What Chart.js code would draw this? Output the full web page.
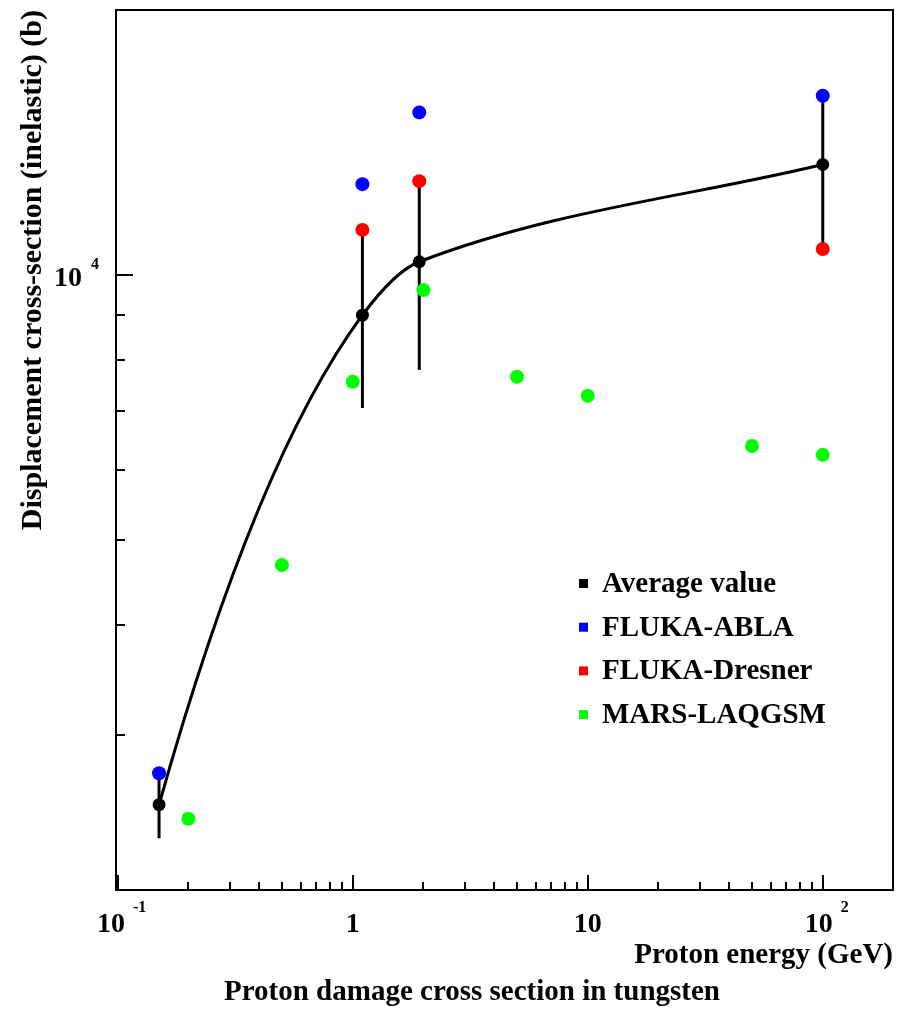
<!DOCTYPE html>
<html>
<head>
<meta charset="utf-8">
<script src="https://cdn.jsdelivr.net/npm/chart.js@4"></script>
<style>
  html, body { margin: 0; padding: 0; background: #fff; }
  #wrap { width: 904px; height: 1009px; position: relative; }
</style>
</head>
<body>
<div id="wrap"><canvas id="chart" width="904" height="1009"></canvas></div>
<script>
// proton energy (GeV) and cross sections (b)
var avgEnergy = [0.15, 1.1, 1.92, 100];
var avgValue = [2500, 9000, 10350, 13350];
var avgErrLow = [2290, 7060, 7800, 10700];
var avgErrHigh = [2710, 11250, 12780, 15980];

var ablaEnergy = [0.15, 1.1, 1.92, 100];
var ablaValue = [2715, 12680, 15300, 15980];

var dresnerEnergy = [1.1, 1.92, 100];
var dresnerValue = [11250, 12780, 10700];

var marsEnergy = [0.2, 0.5, 1, 2, 5, 10, 50, 100];
var marsValue = [2410, 4680, 7560, 9610, 7660, 7290, 6390, 6245];

var xTickValues = [0.1, 1, 10, 100];
var xTickBase = ['10', '1', '10', '10'];
var xTickExp = ['-1', '', '', '2'];
var yTickValues = [10000];
var yTickBase = ['10'];
var yTickExp = ['4'];

var seriesNames = ['Average value', 'FLUKA-ABLA', 'FLUKA-Dresner', 'MARS-LAQGSM'];
var seriesColors = ['#000000', '#0000ff', '#ff0000', '#00ff00'];

function pts(xs, ys) {
    return xs.map(function (x, i) { return {x: x, y: ys[i]}; });
}

var SERIF = '"Liberation Serif", "DejaVu Serif", serif';

// smooth curve through the average points (hermite, pixel space)
function drawSmooth(ctx, p) {
    var n = p.length, d = [], h = [], m = [];
    for (var i = 0; i < n - 1; i++) {
        h.push(p[i + 1].x - p[i].x);
        d.push((p[i + 1].y - p[i].y) / h[i]);
    }
    for (var k = 1; k < n - 1; k++) {
        m[k] = (d[k - 1] * d[k] > 0) ? 2 / (1 / d[k - 1] + 1 / d[k]) : 0;
    }
    m[0] = ((2 * h[0] + h[1]) * d[0] - h[0] * d[1]) / (h[0] + h[1]);
    if (m[0] * d[0] <= 0) m[0] = d[0];
    var L = n - 2;
    m[n - 1] = ((2 * h[L] + h[L - 1]) * d[L] - h[L] * d[L - 1]) / (h[L] + h[L - 1]);
    if (m[n - 1] * d[L] <= 0) m[n - 1] = d[L];

    ctx.beginPath();
    ctx.moveTo(p[0].x, p[0].y);
    for (var s = 0; s < n - 1; s++) {
        var t = h[s] / 3;
        ctx.bezierCurveTo(p[s].x + t, p[s].y + m[s] * t,
                          p[s + 1].x - t, p[s + 1].y - m[s + 1] * t,
                          p[s + 1].x, p[s + 1].y);
    }
    ctx.stroke();
}

var errorBars = {
    id: 'errorBars',
    beforeDatasetsDraw: function (chart) {
        var ctx = chart.ctx, xs = chart.scales.x, ys = chart.scales.y;
        ctx.save();
        ctx.strokeStyle = '#000';
        ctx.lineWidth = 3;
        ctx.lineJoin = 'round';
        var p = [];
        for (var i = 0; i < avgEnergy.length; i++) {
            var px = xs.getPixelForValue(avgEnergy[i]);
            p.push({x: px, y: ys.getPixelForValue(avgValue[i])});
            ctx.beginPath();
            ctx.moveTo(px, ys.getPixelForValue(avgErrLow[i]));
            ctx.lineTo(px, ys.getPixelForValue(avgErrHigh[i]));
            ctx.stroke();
        }
        drawSmooth(ctx, p);
        ctx.restore();
    }
};

var frame = {
    id: 'frame',
    afterDraw: function (chart) {
        var ctx = chart.ctx, a = chart.chartArea;
        var xs = chart.scales.x, ys = chart.scales.y;
        ctx.save();
        ctx.strokeStyle = '#000';
        ctx.fillStyle = '#000';
        ctx.lineWidth = 2;
        ctx.strokeRect(a.left, a.top, a.right - a.left, a.bottom - a.top);

        // x ticks
        for (var d = -1; d <= 2; d++) {
            for (var m = 1; m <= 9; m++) {
                var v = m * Math.pow(10, d);
                if (v < xs.min || v > xs.max) continue;
                var px = Math.round(xs.getPixelForValue(v));
                var len = m === 1 ? 15 : 8;
                ctx.beginPath();
                ctx.moveTo(px, a.bottom);
                ctx.lineTo(px, a.bottom - len);
                ctx.stroke();
            }
        }
        // y ticks
        for (var e = 3; e <= 4; e++) {
            for (var k = 1; k <= 9; k++) {
                var w = k * Math.pow(10, e);
                if (w < ys.min || w > ys.max) continue;
                var py = Math.round(ys.getPixelForValue(w));
                var l = k === 1 ? 17 : 9;
                ctx.beginPath();
                ctx.moveTo(a.left, py);
                ctx.lineTo(a.left + l, py);
                ctx.stroke();
            }
        }

        // x tick labels
        ctx.textBaseline = 'alphabetic';
        for (var i = 0; i < xTickValues.length; i++) {
            var cx = xs.getPixelForValue(xTickValues[i]);
            var ew = 0;
            if (xTickExp[i]) {
                ctx.font = 'bold 16px ' + SERIF;
                ew = ctx.measureText(xTickExp[i]).width;
            }
            ctx.font = 'bold 28px ' + SERIF;
            ctx.textAlign = 'center';
            var bw = ctx.measureText(xTickBase[i]).width;
            var bx = cx - ew / 2;
            ctx.fillText(xTickBase[i], bx, 932);
            if (xTickExp[i]) {
                ctx.font = 'bold 16px ' + SERIF;
                ctx.textAlign = 'left';
                ctx.fillText(xTickExp[i], bx + bw / 2 + 8, 912);
            }
        }
        // y tick labels
        for (var j = 0; j < yTickValues.length; j++) {
            var cy = ys.getPixelForValue(yTickValues[j]);
            ctx.font = 'bold 28px ' + SERIF;
            ctx.textAlign = 'right';
            ctx.fillText(yTickBase[j], 82, cy + 11);
            ctx.font = 'bold 16px ' + SERIF;
            ctx.textAlign = 'left';
            ctx.fillText(yTickExp[j], 91, cy - 6);
        }

        // axis titles
        ctx.font = 'bold 29px ' + SERIF;
        ctx.textAlign = 'right';
        ctx.fillText('Proton energy (GeV)', a.right, 963);
        ctx.textAlign = 'center';
        ctx.fillText('Proton damage cross section in tungsten', 472, 1000);

        ctx.save();
        ctx.font = 'bold 30px ' + SERIF;
        ctx.translate(41, 10);
        ctx.rotate(-Math.PI / 2);
        ctx.textAlign = 'right';
        ctx.fillText('Displacement cross-section (inelastic) (b)', 0, 0);
        ctx.restore();

        // legend
        ctx.font = 'bold 29px ' + SERIF;
        ctx.textAlign = 'left';
        for (var n = 0; n < seriesNames.length; n++) {
            var ly = 592 + n * 43.7;
            ctx.fillStyle = seriesColors[n];
            ctx.fillRect(579, ly - 13, 9, 9);
            ctx.fillStyle = '#000';
            ctx.fillText(seriesNames[n], 602, ly);
        }
        ctx.restore();
    }
};

var ctx = document.getElementById('chart');
new Chart(ctx, {
    type: 'scatter',
    data: {
        datasets: [
            {
                label: seriesNames[0],
                data: pts(avgEnergy, avgValue),
                backgroundColor: seriesColors[0],
                pointRadius: 6.5,
                pointBorderWidth: 0,
                order: 4
            },
            {
                label: seriesNames[1],
                data: pts(ablaEnergy, ablaValue),
                backgroundColor: seriesColors[1],
                pointRadius: 7,
                pointBorderWidth: 0,
                order: 3
            },
            {
                label: seriesNames[2],
                data: pts(dresnerEnergy, dresnerValue),
                backgroundColor: seriesColors[2],
                pointRadius: 7,
                pointBorderWidth: 0,
                order: 2
            },
            {
                label: seriesNames[3],
                data: pts(marsEnergy, marsValue),
                backgroundColor: seriesColors[3],
                pointRadius: 7,
                pointBorderWidth: 0,
                order: 1
            }
        ]
    },
    options: {
        responsive: false,
        animation: false,
        layout: { padding: { left: 116, top: 10, right: 11, bottom: 119 } },
        plugins: { legend: { display: false }, tooltip: { enabled: false } },
        scales: {
            x: { type: 'logarithmic', min: 0.0984, max: 199, display: false },
            y: { type: 'logarithmic', min: 2000, max: 20000, display: false }
        }
    },
    plugins: [errorBars, frame]
});
</script>
</body>
</html>
